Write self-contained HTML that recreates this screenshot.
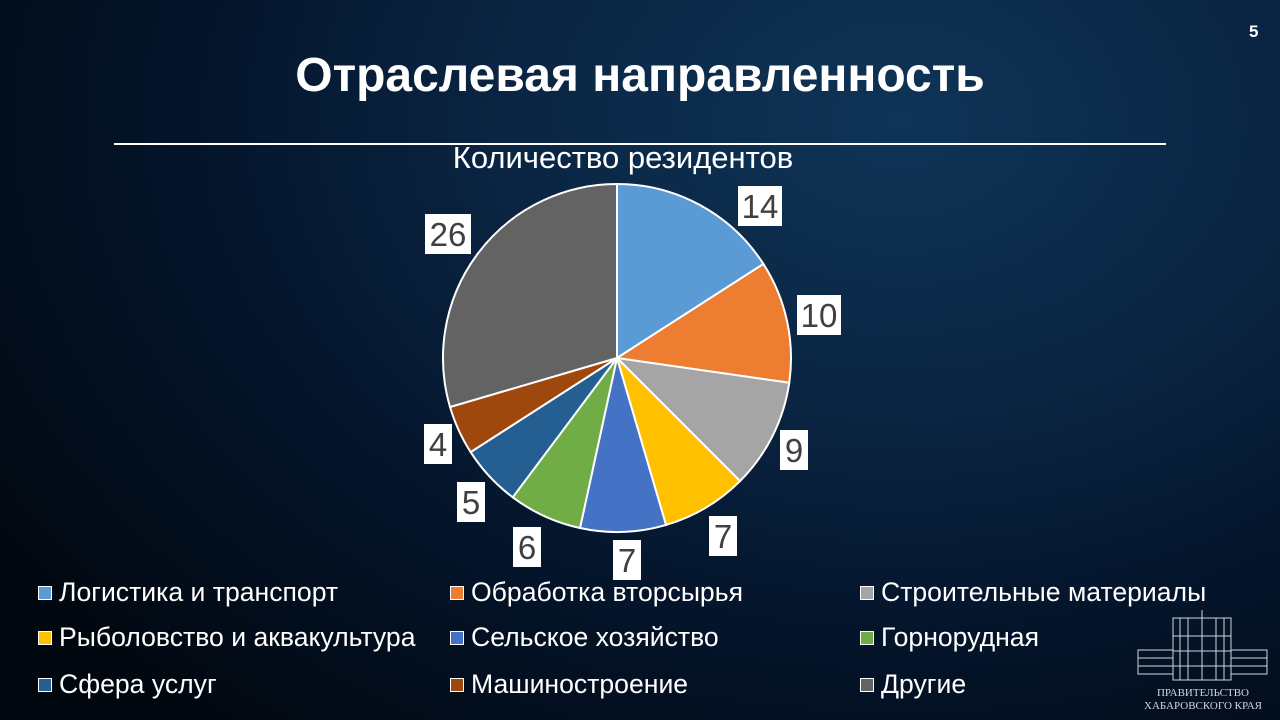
<!DOCTYPE html>
<html><head><meta charset="utf-8"><style>
html,body{margin:0;padding:0}
body{width:1280px;height:720px;overflow:hidden;position:relative;font-family:"Liberation Sans",sans-serif;
background:radial-gradient(ellipse 1100px 800px at 900px 120px,#0f3457 0%,#0a2543 35%,#04142a 65%,#01070f 100%);}
.t{position:absolute;color:#fff;white-space:nowrap}
.lg{position:absolute;color:#fff;font-size:26.6px;white-space:nowrap;line-height:30px}
.lg i{display:inline-block;width:12px;height:12px;border:1px solid #fff;margin-right:7px;vertical-align:1px}
</style></head><body>
<div class="t" style="left:0;width:1280px;text-align:center;top:48px;font-size:48px;font-weight:bold">Отраслевая направленность</div>
<div class="t" style="left:1249px;top:22px;font-size:17px;font-weight:bold">5</div>
<div style="position:absolute;left:114px;top:143px;width:1052px;height:2px;background:#fff"></div>
<div class="t" style="left:0;width:1246px;text-align:center;top:140px;font-size:31px">Количество резидентов</div>
<svg width="1280" height="720" style="position:absolute;left:0;top:0" id="s"></svg>
<div class="lg" style="left:38px;top:577px"><i style="background:#5b9bd5"></i>Логистика и транспорт</div>
<div class="lg" style="left:450px;top:577px"><i style="background:#ed7d31"></i>Обработка вторсырья</div>
<div class="lg" style="left:860px;top:577px"><i style="background:#a5a5a5"></i>Строительные материалы</div>
<div class="lg" style="left:38px;top:622px"><i style="background:#ffc000"></i>Рыболовство и аквакультура</div>
<div class="lg" style="left:450px;top:622px"><i style="background:#4472c4"></i>Сельское хозяйство</div>
<div class="lg" style="left:860px;top:622px"><i style="background:#70ad47"></i>Горнорудная</div>
<div class="lg" style="left:38px;top:669px"><i style="background:#255e91"></i>Сфера услуг</div>
<div class="lg" style="left:450px;top:669px"><i style="background:#9e480e"></i>Машиностроение</div>
<div class="lg" style="left:860px;top:669px"><i style="background:#636363"></i>Другие</div>
<svg width="150" height="110" style="position:absolute;left:1128px;top:606px">
<g fill="none" stroke="#cfd6de" stroke-width="1">
<rect x="10" y="44" width="35" height="24"/><rect x="103" y="44" width="36" height="24"/>
<rect x="45" y="12" width="58" height="62"/>
<line x1="52" y1="12" x2="52" y2="74"/><line x1="60" y1="12" x2="60" y2="74"/><line x1="74" y1="4" x2="74" y2="74"/><line x1="88" y1="12" x2="88" y2="74"/><line x1="96" y1="12" x2="96" y2="74"/>
<line x1="10" y1="52" x2="45" y2="52"/><line x1="10" y1="60" x2="45" y2="60"/><line x1="103" y1="52" x2="139" y2="52"/><line x1="103" y1="60" x2="139" y2="60"/>
<line x1="45" y1="30" x2="103" y2="30"/><line x1="45" y1="45" x2="103" y2="45"/><line x1="45" y1="60" x2="103" y2="60"/>
</g>
<text x="75" y="90" fill="#cfd6de" font-family="Liberation Serif,serif" font-size="11" text-anchor="middle">ПРАВИТЕЛЬСТВО</text>
<text x="75" y="103" fill="#cfd6de" font-family="Liberation Serif,serif" font-size="11" text-anchor="middle">ХАБАРОВСКОГО КРАЯ</text>
</svg>
<script>
var v=[14,10,9,7,7,6,5,4,26],c=["#5b9bd5","#ed7d31","#a5a5a5","#ffc000","#4472c4","#70ad47","#255e91","#9e480e","#636363"];
var cx=617,cy=358,r=174,T=88,a=0,h="";
for(var i=0;i<v.length;i++){var a2=a+v[i]/T*2*Math.PI;
var x1=cx+r*Math.sin(a),y1=cy-r*Math.cos(a),x2=cx+r*Math.sin(a2),y2=cy-r*Math.cos(a2);
h+='<path d="M'+cx+' '+cy+'L'+x1+' '+y1+'A'+r+' '+r+' 0 '+(a2-a>Math.PI?1:0)+' 1 '+x2+' '+y2+'Z" fill="'+c[i]+'" stroke="#fff" stroke-width="2"/>';a=a2;}
var L=[[738,186,44,"14"],[797,295,44,"10"],[780,430,28,"9"],[709,516,28,"7"],[613,540,28,"7"],[513,527,28,"6"],[457,482,28,"5"],[424,424,28,"4"],[425,214,46,"26"]];
L.forEach(function(l){h+='<rect x="'+l[0]+'" y="'+l[1]+'" width="'+l[2]+'" height="40" fill="#fff"/><text x="'+(l[0]+l[2]/2)+'" y="'+(l[1]+32)+'" text-anchor="middle" font-family="Liberation Sans,sans-serif" font-size="33" fill="#404040">'+l[3]+'</text>';});
document.getElementById("s").innerHTML=h;
</script>
</body></html>
